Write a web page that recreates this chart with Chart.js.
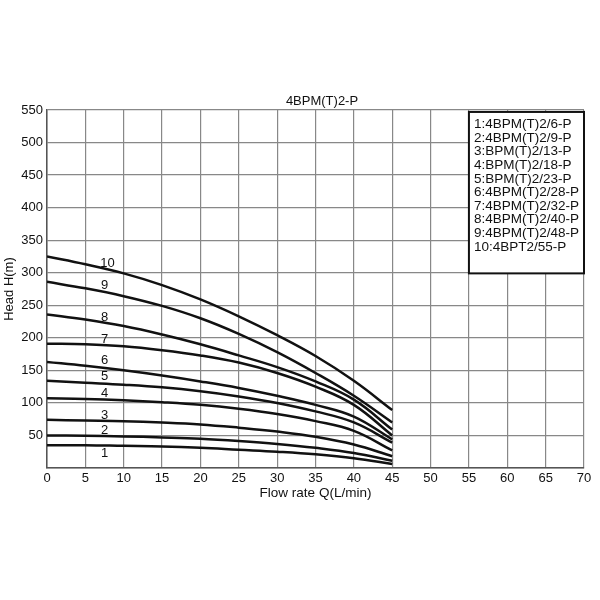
<!DOCTYPE html>
<html>
<head>
<meta charset="utf-8">
<script src="https://cdn.jsdelivr.net/npm/chart.js@4.4.1/dist/chart.umd.min.js"></script>
<style>
    html, body { margin: 0; padding: 0; background: #fff; }
</style>
</head>
<body>
<canvas id="chart" width="600" height="600"></canvas>
<script>
// flow rate Q (L/min) where each curve was read
const flowRate = [0, 5, 10, 15, 20, 25, 30, 35, 40, 45];

// head H (m) per pump model
const head1  = [35, 35, 34, 33, 31, 28, 25, 21, 15, 6];
const head2  = [50, 49.5, 48.5, 47, 45, 41.5, 37, 31, 23, 11];
const head3  = [74, 73, 72, 70, 67, 62, 56, 48, 36, 18];
const head4  = [107, 106, 104, 101, 97, 91, 83, 72, 57, 27];
const head5  = [134, 131, 128, 124, 118, 110, 100, 87, 70, 39];
const head6  = [163, 157, 150, 142, 133, 123, 111, 97, 79, 44];
const head7  = [191, 190, 187, 181, 173, 162, 146, 125, 97, 50];
const head8  = [236, 228, 218, 205, 190, 173, 155, 133, 105, 59];
const head9  = [286, 276, 264, 249, 230, 206, 178, 146, 111, 70];
const head10 = [325, 313, 299, 281, 259, 233, 204, 172, 134, 89];

const curveNumbers = ["1", "2", "3", "4", "5", "6", "7", "8", "9", "10"];
const curveLabelX = [7.5, 7.5, 7.5, 7.5, 7.5, 7.5, 7.5, 7.5, 7.5, 7.9];
const curveLabelY = [23, 57, 81, 115, 140, 165, 198, 231, 280, 315];

const modelNames = [
    "1:4BPM(T)2/6-P",
    "2:4BPM(T)2/9-P",
    "3:BPM(T)2/13-P",
    "4:BPM(T)2/18-P",
    "5:BPM(T)2/23-P",
    "6:4BPM(T)2/28-P",
    "7:4BPM(T)2/32-P",
    "8:4BPM(T)2/40-P",
    "9:4BPM(T)2/48-P",
    "10:4BPT2/55-P"
];

const chartTitle = "4BPM(T)2-P";
const xTitle = "Flow rate Q(L/min)";
const yTitle = "Head H(m)";

const allHeads = [head1, head2, head3, head4, head5, head6, head7, head8, head9, head10];
const FONT = "'Liberation Sans', Arial, sans-serif";

const datasets = allHeads.map((h, i) => ({
    label: curveNumbers[i],
    data: flowRate.map((q, j) => ({ x: q, y: h[j] })),
    borderColor: "#111",
    borderWidth: 2.5,
    pointRadius: 0,
    fill: false,
    tension: 0.4
}));

// numbers on curves, legend box and title
const annotations = {
    id: "annotations",
    afterDatasetsDraw(chart) {
        const ctx = chart.ctx;
        const xs = chart.scales.x;
        const ys = chart.scales.y;
        ctx.save();
        ctx.fillStyle = "#111";
        ctx.font = "13px " + FONT;
        ctx.textAlign = "center";
        ctx.textBaseline = "middle";
        curveNumbers.forEach((n, i) => {
            ctx.fillText(n, xs.getPixelForValue(curveLabelX[i]), ys.getPixelForValue(curveLabelY[i]));
        });

        // legend box
        const bx1 = xs.getPixelForValue(55);
        const bx2 = xs.getPixelForValue(70);
        const by1 = ys.getPixelForValue(547);
        const by2 = ys.getPixelForValue(299);
        ctx.fillStyle = "#fff";
        ctx.fillRect(bx1, by1, bx2 - bx1, by2 - by1);
        ctx.strokeStyle = "#111";
        ctx.lineWidth = 2;
        ctx.strokeRect(bx1, by1, bx2 - bx1, by2 - by1);
        ctx.fillStyle = "#111";
        ctx.font = "13.5px " + FONT;
        ctx.textAlign = "left";
        modelNames.forEach((m, i) => {
            ctx.fillText(m, bx1 + 5, by1 + 12.5 + i * 13.6);
        });

        ctx.font = "13px " + FONT;
        ctx.textAlign = "center";
        ctx.fillText(chartTitle, 322, 101);
        ctx.restore();
    }
};

const ctx = document.getElementById("chart").getContext("2d");

const chart = new Chart(ctx, {
    type: "line",
    data: { datasets: datasets },
    options: {
        responsive: false,
        animation: false,
        layout: { padding: { top: 110, right: 16, left: 0, bottom: 99 } },
        plugins: {
            legend: { display: false },
            tooltip: { enabled: false }
        },
        scales: {
            x: {
                type: "linear",
                min: 0,
                max: 70,
                ticks: {
                    stepSize: 5,
                    color: "#111",
                    padding: 3,
                    maxRotation: 0,
                    font: { family: FONT, size: 13 }
                },
                grid: { color: "#888", lineWidth: 1.2, drawTicks: false },
                border: { color: "#555", width: 1.5 },
                title: {
                    display: true,
                    text: xTitle,
                    color: "#111",
                    padding: 0,
                    font: { family: FONT, size: 13.5 }
                },
                afterFit: (scale) => { scale.height = 33; }
            },
            y: {
                min: 0,
                max: 550,
                ticks: {
                    stepSize: 50,
                    color: "#111",
                    padding: 4,
                    font: { family: FONT, size: 13 },
                    callback: (v) => v === 0 ? "" : v
                },
                grid: { color: "#888", lineWidth: 1.2, drawTicks: false },
                border: { color: "#555", width: 1.5 },
                title: {
                    display: true,
                    text: yTitle,
                    color: "#111",
                    padding: { top: 2, bottom: 0 },
                    font: { family: FONT, size: 13 }
                },
                afterFit: (scale) => { scale.width = 47; }
            }
        }
    },
    plugins: [annotations]
});
</script>
</body>
</html>
